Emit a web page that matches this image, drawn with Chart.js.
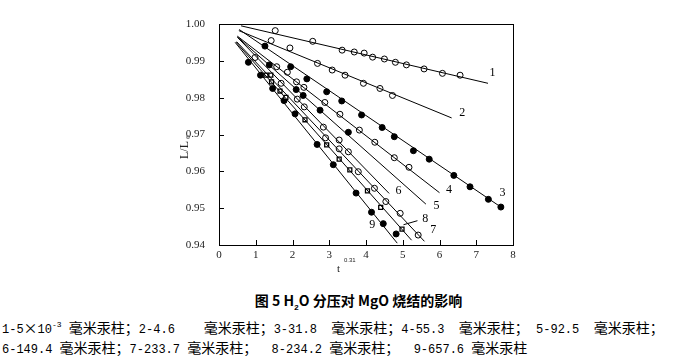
<!DOCTYPE html>
<html>
<head>
<meta charset="utf-8">
<script src="https://cdn.jsdelivr.net/npm/chart.js@4.4.1/dist/chart.umd.min.js"></script>
<style>
  body { margin: 0; background: #fff; width: 677px; height: 359px; overflow: hidden; position: relative; }
  #c { position: absolute; left: 0; top: 0; }
  .cap { position: absolute; white-space: pre; color: #000; font-family: "Noto Sans CJK SC", sans-serif; font-size: 14px; line-height: 16px; }
  .cap .a { font-family: "Liberation Mono", monospace; font-size: 12px; }
  #title { font-weight: bold; font-size: 14px; left: 0; width: 717px; text-align: center; top: 292px; }
  sub, sup { font-size: 8px; font-family: "Liberation Mono", monospace; }
</style>
</head>
<body>
<canvas id="c" width="677" height="290"></canvas>
<div class="cap" id="title">图 5 H<sub>2</sub>O 分压对 MgO 烧结的影响</div>
<div class="cap mixed" style="left:2px;top:317px;">1-5×10<sup>-3</sup> 毫米汞柱；2-4.6    毫米汞柱；3-31.8  毫米汞柱；4-55.3  毫米汞柱； 5-92.5  毫米汞柱；</div>
<div class="cap mixed" style="left:2px;top:339px;">6-149.4 毫米汞柱；7-233.7 毫米汞柱；  8-234.2 毫米汞柱；  9-657.6 毫米汞柱</div>
<script>
// ---------------- data
var s1x = [1.53, 2.55, 3.35, 3.68, 3.95, 4.18, 4.50, 4.80, 5.10, 5.58, 6.08, 6.56];
var s1y = [0.9982, 0.9953, 0.9929, 0.9924, 0.9921, 0.9910, 0.9905, 0.9896, 0.9889, 0.9878, 0.9866, 0.9861];
var s2x = [1.42, 1.93, 2.68, 3.08, 3.43, 3.93, 4.38, 4.72];
var s2y = [0.9955, 0.9935, 0.9893, 0.9875, 0.9861, 0.9839, 0.9825, 0.9806];
var s3x = [1.25, 1.95, 2.39, 2.93, 3.34, 3.88, 4.44, 4.77, 5.29, 5.72, 6.39, 6.83, 7.33, 7.67];
var s3y = [0.9940, 0.9884, 0.9851, 0.9816, 0.9791, 0.9753, 0.9719, 0.9694, 0.9656, 0.9633, 0.9589, 0.9558, 0.9524, 0.9503];
var s4x = [1.57, 1.86, 2.11, 2.31, 2.88, 3.29, 3.82, 4.24, 4.77, 5.17];
var s4y = [0.9884, 0.9869, 0.9843, 0.9828, 0.9787, 0.9755, 0.9712, 0.9679, 0.9637, 0.9611];
var s5x = [1.37, 2.10, 2.29, 2.75, 3.52];
var s5y = [0.9889, 0.9822, 0.9806, 0.9766, 0.9706];
var s6x = [1.69, 2.13, 2.32, 2.84, 3.27, 3.52];
var s6y = [0.9839, 0.9796, 0.9775, 0.9720, 0.9685, 0.9653];
var s7x = [0.98, 2.90, 3.27, 3.79, 4.23, 4.54, 4.93, 5.42];
var s7y = [0.9909, 0.9691, 0.9661, 0.9599, 0.9554, 0.9518, 0.9486, 0.9427];
var s8x = [1.28, 1.41, 1.43, 1.66, 1.82, 2.34, 2.93, 3.27, 3.56, 4.04, 4.40, 4.98];
var s8y = [0.9861, 0.9861, 0.9843, 0.9818, 0.9801, 0.9740, 0.9672, 0.9633, 0.9604, 0.9547, 0.9502, 0.9443];
var s9x = [0.80, 1.13, 1.46, 1.77, 2.07, 2.67, 3.11, 3.73, 4.15, 4.47, 4.82];
var s9y = [0.9896, 0.9861, 0.9825, 0.9792, 0.9756, 0.9673, 0.9618, 0.9541, 0.9489, 0.9458, 0.9430];

// fitted straight lines, start and end of each
var fitX0 = [0.60, 0.54, 0.55, 0.50, 0.50, 0.50, 0.48, 0.46, 0.44];
var fitY0 = [0.9995, 0.9982, 0.9985, 0.9967, 0.9965, 0.9964, 0.9952, 0.9951, 0.9950];
var fitX1 = [7.32, 6.33, 7.67, 6.00, 5.63, 4.63, 5.59, 5.24, 4.85];
var fitY1 = [0.9839, 0.9745, 0.9503, 0.9542, 0.9511, 0.9540, 0.9410, 0.9413, 0.9405];

var curveNames = ['1', '2', '3', '4', '5', '6', '7', '8', '9'];
var xTicks = [0, 1, 2, 3, 4, 5, 6, 7, 8];
var yTicks = [0.94, 0.95, 0.96, 0.97, 0.98, 0.99, 1.00];

// ascii runs in the captions get the narrow font
document.querySelectorAll('.mixed').forEach(function (el) {
  el.innerHTML = el.innerHTML.replace(/(<sup>[^<]*<\/sup>)|([\x20-\x3b\x3d-\x7e]+)/g, function (m, sup, txt) {
    return sup ? sup : '<span class="a">' + txt + '</span>';
  });
});

// ---------------- chart
var seriesX = [s1x, s2x, s3x, s4x, s5x, s6x, s7x, s8x, s9x];
var seriesY = [s1y, s2y, s3y, s4y, s5y, s6y, s7y, s8y, s9y];
var filled = [false, false, true, false, true, false, false, false, true];

function pts(xs, ys) {
  return xs.map(function (x, i) { return { x: x, y: ys[i] }; });
}

var datasets = [];
for (var i = 0; i < 9; i++) {
  datasets.push({
    label: 'fit ' + curveNames[i],
    data: [{ x: fitX0[i], y: fitY0[i] }, { x: fitX1[i], y: fitY1[i] }],
    showLine: true, borderColor: '#000', borderWidth: 1, pointRadius: 0
  });
}
for (var j = 0; j < 9; j++) {
  var sq = (j === 7);
  datasets.push({
    label: curveNames[j],
    data: pts(seriesX[j], seriesY[j]),
    showLine: false,
    pointStyle: sq ? 'rect' : 'circle',
    pointRadius: sq ? 2.8 : 3,
    pointBorderWidth: sq ? 1.3 : 1,
    pointBorderColor: '#000',
    pointBackgroundColor: filled[j] ? '#000' : '#fff'
  });
}

// label anchors (data units) for curve numbers
var tagX = [7.36, 6.54, 7.63, 6.18, 5.84, 4.80, 5.75, 5.53, 4.09];
var tagY = [0.9868, 0.9759, 0.9542, 0.9549, 0.9507, 0.9546, 0.9442, 0.9472, 0.9456];

var deco = {
  id: 'deco',
  afterDraw: function (chart) {
    var ctx = chart.ctx, a = chart.chartArea;
    var xs = chart.scales.x, ys = chart.scales.y;
    ctx.save();
    ctx.strokeStyle = '#000';
    ctx.lineWidth = 1;
    ctx.strokeRect(Math.round(a.left) + 0.5, Math.round(a.top) + 0.5,
      Math.round(a.right - a.left), Math.round(a.bottom - a.top));
    ctx.beginPath();
    xTicks.forEach(function (v) {
      var px = Math.round(xs.getPixelForValue(v)) + 0.5;
      ctx.moveTo(px, a.bottom); ctx.lineTo(px, a.bottom - 5);
    });
    yTicks.forEach(function (v) {
      var py = Math.round(ys.getPixelForValue(v)) + 0.5;
      ctx.moveTo(a.left, py); ctx.lineTo(a.left + 5, py);
    });
    // pointer from label 8 to its line
    ctx.moveTo(xs.getPixelForValue(5.40), ys.getPixelForValue(0.9466));
    ctx.lineTo(xs.getPixelForValue(5.02), ys.getPixelForValue(0.9455));
    ctx.stroke();

    ctx.fillStyle = '#000';
    ctx.font = '12px "Liberation Serif"';
    ctx.textAlign = 'left';
    ctx.textBaseline = 'middle';
    for (var k = 0; k < 9; k++) {
      ctx.fillText(curveNames[k], xs.getPixelForValue(tagX[k]), ys.getPixelForValue(tagY[k]));
    }

    // x title t^0.31
    ctx.fillStyle = '#222';
    ctx.font = '11px "Liberation Serif"';
    ctx.fillText('t', 337, 269);
    ctx.font = '6px "Liberation Sans"';
    ctx.fillText('0.31', 344, 260);

    // y title L/L0, rotated
    ctx.translate(185, 147);
    ctx.rotate(-Math.PI / 2);
    ctx.font = '12px "Liberation Serif"';
    ctx.textAlign = 'center';
    ctx.fillText('L/L', -3, 0);
    ctx.font = '7px "Liberation Serif"';
    ctx.fillText('0', 10, 3);
    ctx.restore();
  }
};

var ctx = document.getElementById('c').getContext('2d');
new Chart(ctx, {
  type: 'scatter',
  data: { datasets: datasets },
  options: {
    responsive: false,
    animation: false,
    devicePixelRatio: 1,
    layout: { padding: { left: 0, top: 24, right: 164, bottom: 0 } },
    plugins: { legend: { display: false }, tooltip: { enabled: false } },
    scales: {
      x: {
        type: 'linear', min: 0, max: 8,
        afterBuildTicks: function (s) { s.ticks = xTicks.map(function (v) { return { value: v }; }); },
        afterFit: function (s) { s.height = 45; },
        grid: { display: false },
        border: { display: false },
        ticks: { padding: -4, color: '#222', font: { family: 'Liberation Serif', size: 11 } }
      },
      y: {
        type: 'linear', min: 0.94, max: 1.00,
        afterBuildTicks: function (s) { s.ticks = yTicks.map(function (v) { return { value: v }; }); },
        afterFit: function (s) { s.width = 219; },
        grid: { display: false },
        border: { display: false },
        ticks: {
          padding: 6, color: '#222', font: { family: 'Liberation Serif', size: 11 },
          callback: function (v) { return Number(v).toFixed(2); }
        }
      }
    }
  },
  plugins: [deco]
});
</script>
</body>
</html>
